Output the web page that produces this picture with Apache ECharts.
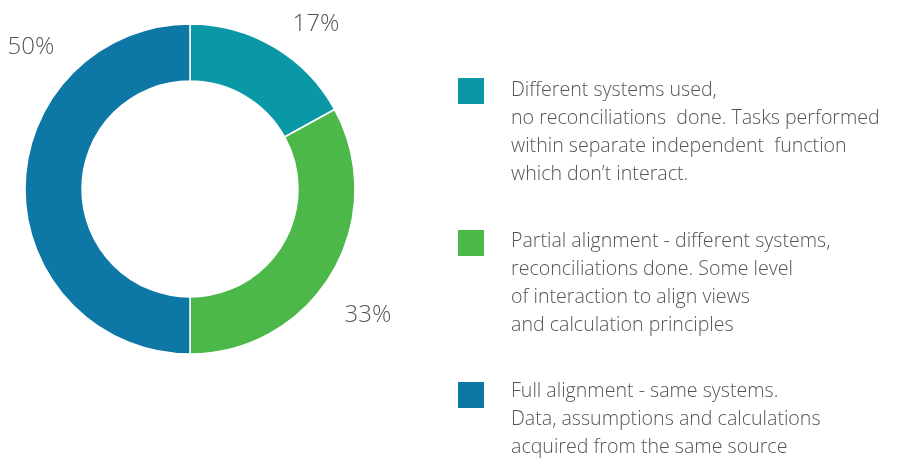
<!DOCTYPE html>
<html>
<head>
<meta charset="utf-8">
<script src="https://cdn.jsdelivr.net/npm/echarts@6/dist/echarts.min.js"></script>
<style>
  html, body { margin: 0; padding: 0; background: #fff; }
  #chart { width: 914px; height: 459px; }
</style>
</head>
<body>
<div id="chart"></div>
<script>
// データ
const categories = [
  'Different systems used,\nno reconciliations  done. Tasks performed\nwithin separate independent  function\nwhich don\u2019t interact.',
  'Partial alignment - different systems,\nreconciliations done. Some level\nof interaction to align views\nand calculation principles',
  'Full alignment - same systems.\nData, assumptions and calculations\nacquired from the same source'
]
const shares = [17, 33, 50]
const colors = ['#0A98A7', '#4DB84A', '#0D77A6']

// ラベルの位置 (dataIndex順)
const labelPos = [[316, 24], [368, 315], [31, 47]]
// 凡例のテキスト位置
const legendTop = [76, 227, 377]

const chart = echarts.init(document.getElementById('chart'))

const font = '"Open Sans", "Noto Sans", sans-serif'

chart.setOption({
  animation: false,
  color: colors,
  legend: {
    orient: 'vertical',
    left: 456,
    top: 76,
    padding: 0,
    itemWidth: 28,
    itemHeight: 28,
    itemGap: 122,
    icon: 'rect',
    formatter: () => '',
    data: categories
  },
  // 凡例の説明文（複数行を四角の上端にそろえる）
  graphic: categories.map((name, i) => ({
    type: 'text',
    left: 511,
    top: legendTop[i],
    silent: true,
    style: {
      text: name,
      font: '300 19.6px ' + font,
      fill: '#555',
      lineHeight: 28
    }
  })),
  series: [
    {
      type: 'pie',
      center: [190, 189],
      radius: [108, 165],
      startAngle: 90,
      clockwise: true,
      itemStyle: { borderColor: '#fff', borderWidth: 1.5 },
      label: {
        show: true,
        position: 'inside',
        formatter: '{c}%',
        fontFamily: font,
        fontWeight: 300,
        fontSize: 24,
        color: '#555'
      },
      labelLine: { show: false },
      labelLayout: (p) => ({
        x: labelPos[p.dataIndex][0],
        y: labelPos[p.dataIndex][1],
        align: 'center',
        verticalAlign: 'middle'
      }),
      data: categories.map((name, i) => ({ name: name, value: shares[i] }))
    }
  ]
})
</script>
</body>
</html>
